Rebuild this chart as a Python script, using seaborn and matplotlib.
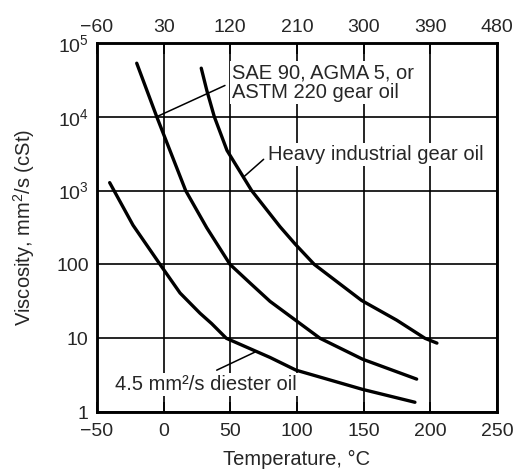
import numpy as np
import pandas as pd
import matplotlib
matplotlib.use("Agg")
import matplotlib.pyplot as plt
import seaborn as sns

# ------------------ DATOS ------------------
temp_diester = [-40.5, -23, -2.7, 12.3, 27.3, 36, 47, 79.8, 99.3, 149.3, 188.5]
visc_diester = [1280, 340, 100, 41, 21.8, 15.8, 10, 5.5, 3.7, 2.03, 1.36]

temp_sae90 = [-20.2, -5.2, 16.5, 32.3, 49.8, 64.8, 79.8, 117.3, 149.3, 189.8]
visc_sae90 = [53000, 10000, 1000, 314, 100, 56, 31.6, 10, 5.2, 2.8]

temp_heavy = [28.2, 32.4, 38, 47.5, 66, 87.3, 98.5, 113, 148.5, 174.8, 196, 205]
visc_heavy = [45400, 22600, 10000, 3500, 1000, 324, 190, 100, 32.5, 17.6, 10, 8.6]

x_ticks_c = [-50, 0, 50, 100, 150, 200, 250]
x_ticks_f = [-60, 30, 120, 210, 300, 390, 480]
y_ticks = [1, 10, 100, 1e3, 1e4, 1e5]
y_labels = ["1", "10", "100", "$10^3$", "$10^4$", "$10^5$"]

df = pd.concat([
    pd.DataFrame({"Temp": temp_diester, "Visc": visc_diester, "Aceite": "diester"}),
    pd.DataFrame({"Temp": temp_sae90, "Visc": visc_sae90, "Aceite": "sae90"}),
    pd.DataFrame({"Temp": temp_heavy, "Visc": visc_heavy, "Aceite": "heavy"}),
])

# ------------------ ESTILO ------------------
sns.set_style("white")
plt.rcParams["font.family"] = ["Liberation Sans", "DejaVu Sans"]
plt.rcParams["mathtext.default"] = "regular"

fig = plt.figure(figsize=(5.16, 4.71), dpi=100)
ax = fig.add_axes([0.188, 0.125, 0.775, 0.784])

sns.lineplot(data=df, x="Temp", y="Visc", hue="Aceite", units="Aceite",
             estimator=None, sort=False, legend=False,
             palette={"diester": "black", "sae90": "black", "heavy": "black"},
             linewidth=2.4, ax=ax, zorder=3)

ax.set_yscale("log")
ax.set_xlim(-50, 250)
ax.set_ylim(1, 1e5)
ax.set_xticks(x_ticks_c)
ax.set_yticks(y_ticks)
ax.set_yticklabels(y_labels)
ax.minorticks_off()
ax.tick_params(axis="x", direction="in", length=7, width=1.2, labelsize=14, pad=8, color="black")
ax.tick_params(axis="y", length=0, labelsize=14, pad=6)
ax.grid(True, color="black", linewidth=1.2)
for s in ax.spines.values():
    s.set_color("black")
    s.set_linewidth(1.8)

ax.set_xlabel("Temperature, °C", fontsize=14.5, labelpad=7)
ax.set_ylabel("Viscosity, mm$^2$/s (cSt)", fontsize=14.5, labelpad=14)

# eje superior en Fahrenheit (como en la figura: -60 a 480 °F)
top = ax.twiny()
top.set_xlim(-60, 480)
top.set_xticks(x_ticks_f)
top.minorticks_off()
top.tick_params(axis="x", direction="in", length=8, width=1.2, labelsize=14, pad=5, color="black")
top.grid(False)
for s in top.spines.values():
    s.set_color("black")
    s.set_linewidth(1.8)

# ------------------ ETIQUETAS ------------------
box = dict(facecolor="white", edgecolor="none", pad=1.5)
leader = dict(arrowstyle="-", lw=1.1, color="black", shrinkA=0, shrinkB=0)

ax.text(51.5, 2.9e4, "SAE 90, AGMA 5, or\nASTM 220 gear oil", fontsize=14.5,
        ha="left", va="center", linespacing=1.05, bbox=box, zorder=2)
ax.annotate("", xy=(-5.2, 1e4), xytext=(46, 2.65e4), arrowprops=leader)

ax.text(78.5, 3100, "Heavy industrial gear oil", fontsize=14.5,
        ha="left", va="center", bbox=box, zorder=2)
ax.annotate("", xy=(59.5, 1500), xytext=(75, 2650), arrowprops=leader)

ax.text(-36.5, 2.38, "4.5 mm²/s diester oil", fontsize=14.5,
        ha="left", va="center", bbox=box, zorder=2)
ax.annotate("", xy=(68.5, 6.5), xytext=(39.8, 3.7), arrowprops=leader)

plt.savefig("out.png", dpi=100)
